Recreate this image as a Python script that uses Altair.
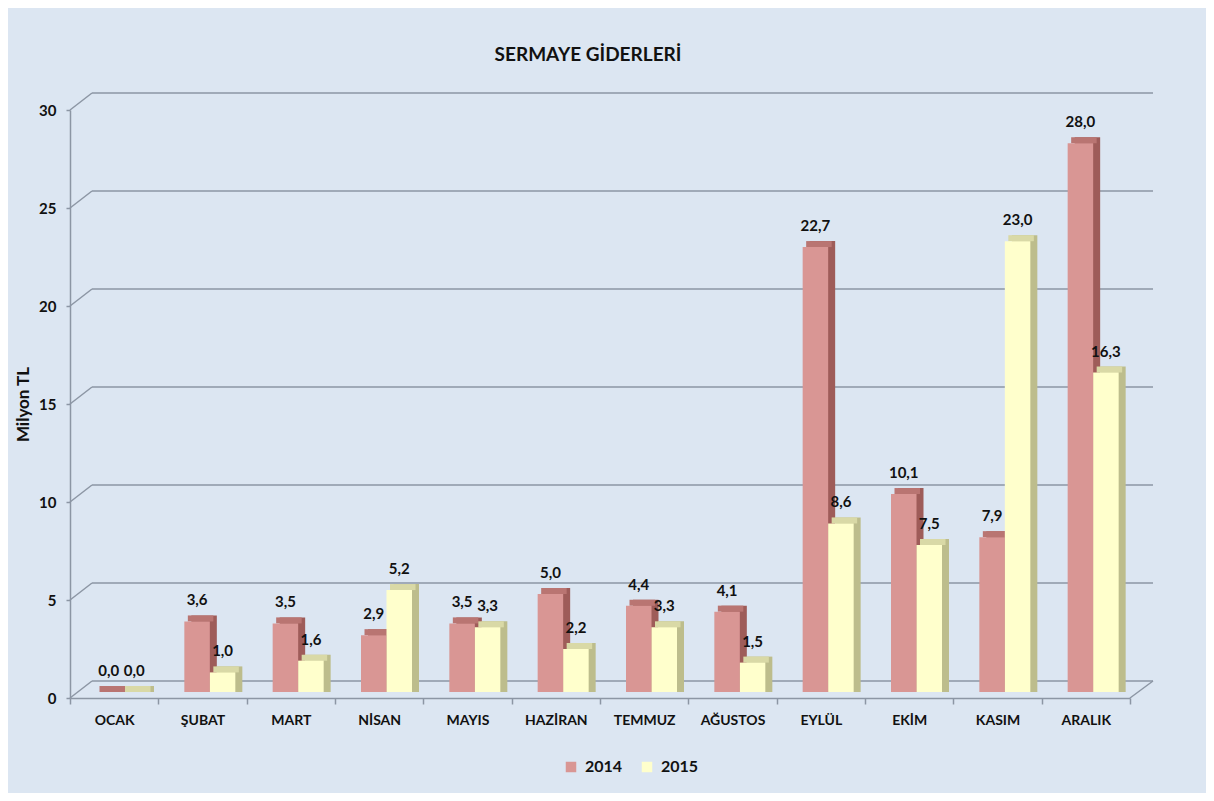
import altair as alt
import pandas as pd

months = ["OCAK", "ŞUBAT", "MART", "NİSAN", "MAYIS", "HAZİRAN",
          "TEMMUZ", "AĞUSTOS", "EYLÜL", "EKİM", "KASIM", "ARALIK"]
v2014 = [0.0, 3.6, 3.5, 2.9, 3.5, 5.0, 4.4, 4.1, 22.7, 10.1, 7.9, 28.0]
v2015 = [0.0, 1.0, 1.6, 5.2, 3.3, 2.2, 3.3, 1.5, 8.6, 7.5, 23.0, 16.3]
years = ["2014", "2015"]
y_ticks = [0, 5, 10, 15, 20, 25, 30]

rows = []
for m, a, b in zip(months, v2014, v2015):
    rows.append({"month": m, "year": "2014", "value": a})
    rows.append({"month": m, "year": "2015", "value": b})
df = pd.DataFrame(rows)
ticks_df = pd.DataFrame({"v": y_ticks})

W, H = 1060, 588
FONT = "Lato"
GRID = "#8c96a4"
BG = "#dce6f2"
TXT = "#111111"

front_colors = ["#d99694", "#ffffcc"]
side_colors = ["#9e5c59", "#bdbd8c"]
top_colors = ["#b97572", "#d9d9a6"]

x_axis = alt.Axis(title=None, labelAngle=0, tickBand="extent",
                  domainColor=GRID, domainWidth=1.5, tickColor=GRID,
                  tickWidth=1.5, tickSize=6, labelPadding=9,
                  labelFont=FONT, labelFontSize=14, labelFontWeight="bold",
                  labelColor=TXT)
y_axis = alt.Axis(values=y_ticks, title="Milyon TL", grid=False,
                  domainColor=GRID, domainWidth=1.5, tickColor=GRID,
                  tickWidth=1.5, tickSize=4, labelPadding=10,
                  labelFont=FONT, labelFontSize=15, labelFontWeight="bold",
                  labelColor=TXT, titleFont=FONT, titleFontSize=17,
                  titleFontWeight="bold", titleColor=TXT, titlePadding=6)

xscale = alt.Scale(paddingInner=0, paddingOuter=0)
yscale = alt.Scale(domain=[0, 30], nice=False)

def X():
    return alt.X("month:N", sort=months, scale=xscale, axis=x_axis)

def Y(field):
    return alt.Y(field, scale=yscale, axis=y_axis)

base = alt.Chart(df).transform_calculate(zero="0")

grid = alt.Chart(ticks_df).mark_rule(color=GRID, strokeWidth=1.5, xOffset=22,
                                      x2Offset=23, yOffset=-17).encode(
    y=Y("v:Q"), x=alt.value(0), x2=alt.value(W))

diag = alt.Chart(ticks_df).mark_rule(color=GRID, strokeWidth=1.5, y2Offset=-17).encode(
    y=Y("v:Q"), y2=alt.Y2("v"), x=alt.value(0), x2=alt.value(22))

floor_right = alt.Chart(ticks_df).transform_filter("datum.v == 0").mark_rule(
    color=GRID, strokeWidth=1.5, y2Offset=-17).encode(
    y=Y("v:Q"), y2=alt.Y2("v"), x=alt.value(W), x2=alt.value(W + 23))

# side faces (darker, pushed back in depth)
side = base.mark_bar(yOffset=-12, y2Offset=-6).encode(
    x=X(),
    xOffset=alt.XOffset("year:N", sort=years, scale=alt.Scale(range=[33, 84])),
    y=Y("value:Q"), y2=alt.Y2("zero:Q"),
    color=alt.Color("year:N", sort=years,
                    scale=alt.Scale(domain=years, range=side_colors), legend=None))

# top faces
top = base.mark_bar(yOffset=-12, y2Offset=-6).encode(
    x=X(),
    xOffset=alt.XOffset("year:N", sort=years, scale=alt.Scale(range=[29.5, 80.5])),
    y=Y("value:Q"), y2=alt.Y2("value"),
    color=alt.Color("year:N", sort=years,
                    scale=alt.Scale(domain=years, range=top_colors), legend=None))

front = base.mark_bar(yOffset=-6, y2Offset=-6).encode(
    x=X(),
    xOffset=alt.XOffset("year:N", sort=years, scale=alt.Scale(range=[26, 77])),
    y=Y("value:Q"), y2=alt.Y2("zero:Q"),
    color=alt.Color("year:N", sort=years,
                    scale=alt.Scale(domain=years, range=front_colors),
                    legend=alt.Legend(orient="none", legendX=493, legendY=649,
                                      direction="horizontal", title=None,
                                      symbolType="square", symbolSize=110,
                                      symbolStrokeWidth=0, labelFont=FONT,
                                      labelFontSize=16, labelFontWeight="bold",
                                      labelColor=TXT, columnPadding=16,
                                      labelOffset=6, padding=0)))

labels = base.transform_calculate(
    label="replace(format(datum.value, '.1f'), '.', ',')"
).mark_text(font=FONT, fontSize=15, fontWeight="bold", color=TXT,
            baseline="middle", yOffset=-27).encode(
    x=X(),
    xOffset=alt.XOffset("year:N", sort=years, scale=alt.Scale(range=[26, 77])),
    y=Y("value:Q"),
    text="label:N")

chart = alt.layer(grid, diag, floor_right, side, top, front, labels).resolve_scale(
    color="independent", xOffset="independent"
).properties(
    width=W, height=H,
    autosize=alt.AutoSizeParams(type="none"),
    padding={"left": 62, "top": 102, "right": 76, "bottom": 95},
    background=BG,
    title=alt.TitleParams("SERMAYE GİDERLERİ", font=FONT, fontSize=19,
                          fontWeight="bold", color=TXT, anchor="middle",
                          dx=-12, offset=12, baseline="alphabetic"),
).configure_view(stroke=None)

chart.save("out.html", embed_options={"renderer": "svg", "actions": False})
